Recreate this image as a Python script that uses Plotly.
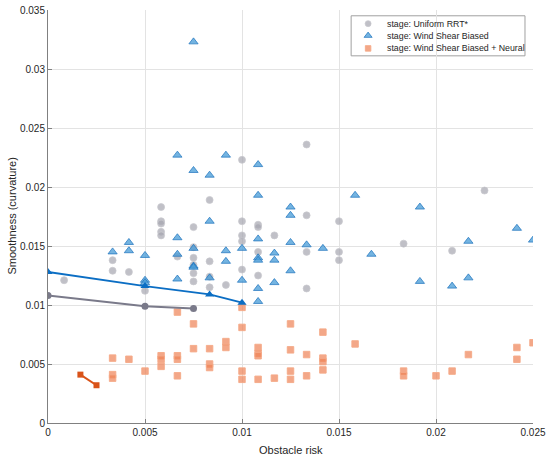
import plotly.graph_objects as go

# -----------------------------------------------------------------------------
# DATA  (x = obstacle risk, y = smoothness / curvature)
# -----------------------------------------------------------------------------
uniform_x = [0.00083, 0.00333, 0.00333, 0.00417, 0.005,
             0.00583, 0.00583, 0.00583, 0.00583, 0.00583, 0.00667,
             0.0075, 0.0075, 0.0075, 0.0075, 0.0075, 0.0075,
             0.00833, 0.00833, 0.00833, 0.00833, 0.00917,
             0.01, 0.01, 0.01, 0.01, 0.01,
             0.01083, 0.01083, 0.01083, 0.01083, 0.01167,
             0.01333, 0.01333, 0.01333, 0.01333,
             0.015, 0.015, 0.015, 0.01833, 0.02083, 0.0225]
uniform_y = [0.0121, 0.0138, 0.0129, 0.0128, 0.0112,
             0.0183, 0.0171, 0.0169, 0.0162, 0.0159, 0.0141,
             0.0166, 0.0149, 0.0140, 0.0134, 0.0127, 0.0120,
             0.0189, 0.0137, 0.0124, 0.0115, 0.0117,
             0.0223, 0.0171, 0.0159, 0.0154, 0.0130,
             0.0168, 0.0166, 0.0145, 0.0125, 0.0159,
             0.0236, 0.0176, 0.0145, 0.0114,
             0.0171, 0.0145, 0.0138, 0.0152, 0.0146, 0.0197]

wind_x = [0.00333, 0.00417, 0.00417, 0.005, 0.005, 0.005,
          0.00667, 0.00667, 0.00667, 0.00667,
          0.0075, 0.0075, 0.0075, 0.0075, 0.0075,
          0.00833, 0.00833, 0.00833, 0.00917, 0.00917, 0.00917,
          0.01, 0.01,
          0.01083, 0.01083, 0.01083, 0.01083, 0.01083, 0.01083, 0.01083,
          0.01167, 0.01167, 0.01167,
          0.0125, 0.0125, 0.0125, 0.0125, 0.01333, 0.01417,
          0.01583, 0.01667, 0.01917, 0.01917, 0.02083,
          0.02167, 0.02167, 0.02417, 0.025]
wind_y = [0.0145, 0.0153, 0.0146, 0.0142, 0.0121, 0.0119,
          0.0227, 0.0157, 0.0143, 0.0122,
          0.0323, 0.0214, 0.0148, 0.0133, 0.0132,
          0.0210, 0.0171, 0.0123, 0.0227, 0.0146, 0.0137,
          0.0148, 0.0121,
          0.0219, 0.0193, 0.0156, 0.0140, 0.0138, 0.0114, 0.0103,
          0.0144, 0.0138, 0.0119,
          0.0183, 0.0176, 0.0153, 0.0129, 0.0151, 0.0148,
          0.0193, 0.0143, 0.0183, 0.0120, 0.0116,
          0.0154, 0.0123, 0.0165, 0.0155]

neural_x = [0.00333, 0.00333, 0.00333, 0.00417, 0.005,
            0.00583, 0.00583, 0.00583, 0.00667, 0.00667, 0.00667, 0.00667,
            0.0075, 0.0075, 0.00833, 0.00833, 0.00833, 0.00917, 0.00917,
            0.01, 0.01, 0.01, 0.01,
            0.01083, 0.01083, 0.01083, 0.01083, 0.01167,
            0.0125, 0.0125, 0.0125, 0.0125, 0.01333, 0.01333,
            0.01417, 0.01417, 0.01417, 0.01417, 0.01583,
            0.01833, 0.01833, 0.02, 0.02083, 0.02167,
            0.02417, 0.02417, 0.025]
neural_y = [0.0055, 0.0041, 0.0038, 0.0054, 0.0044,
            0.0057, 0.0054, 0.0048, 0.0094, 0.0057, 0.0054, 0.0040,
            0.0084, 0.0063, 0.0063, 0.0050, 0.0047, 0.0069, 0.0064,
            0.0098, 0.0081, 0.0044, 0.0037,
            0.0064, 0.0059, 0.0057, 0.0037, 0.0038,
            0.0084, 0.0062, 0.0044, 0.0037, 0.0058, 0.0040,
            0.0077, 0.0055, 0.0052, 0.0045, 0.0067,
            0.0044, 0.0040, 0.0040, 0.0044, 0.0058,
            0.0064, 0.0054, 0.0068]

# trend lines
uniform_line_x = [0, 0.005, 0.0075]
uniform_line_y = [0.0108, 0.0099, 0.0097]
wind_line_x = [0, 0.005, 0.00833, 0.01]
wind_line_y = [0.0128, 0.0116, 0.0109, 0.0102]
neural_line_x = [0.00167, 0.0025]
neural_line_y = [0.0041, 0.0032]

x_ticks = [0, 0.005, 0.01, 0.015, 0.02, 0.025]
x_labels = ["0", "0.005", "0.01", "0.015", "0.02", "0.025"]
y_ticks = [0, 0.005, 0.01, 0.015, 0.02, 0.025, 0.03, 0.035]
y_labels = ["0", "0.005", "0.01", "0.015", "0.02", "0.025", "0.03", "0.035"]

stage_names = ["stage: Uniform RRT*", "stage: Wind Shear Biased",
               "stage: Wind Shear Biased + Neural"]

# -----------------------------------------------------------------------------
# STYLES
# -----------------------------------------------------------------------------
circle_style = dict(symbol="circle", size=7, color="rgba(165,165,175,0.7)",
                    line=dict(color="rgba(200,200,206,0.9)", width=0.8))
tri_style = dict(symbol="triangle-up", size=8, color="rgba(70,155,215,0.75)",
                 line=dict(color="rgba(30,115,190,0.9)", width=0.8))
square_style = dict(symbol="square", size=6.5, color="rgba(238,130,85,0.7)",
                    line=dict(color="rgba(245,170,135,0.9)", width=1))

# -----------------------------------------------------------------------------
# FIGURE
# -----------------------------------------------------------------------------
fig = go.Figure()

fig.add_trace(go.Scatter(x=uniform_x, y=uniform_y, mode="markers",
                         name=stage_names[0], marker=circle_style))
fig.add_trace(go.Scatter(x=wind_x, y=wind_y, mode="markers",
                         name=stage_names[1], marker=tri_style))
fig.add_trace(go.Scatter(x=neural_x, y=neural_y, mode="markers",
                         name=stage_names[2], marker=square_style))

# lines
fig.add_trace(go.Scatter(
    x=uniform_line_x, y=uniform_line_y, mode="lines+markers",
    line=dict(color="#7a7a8a", width=2),
    marker=dict(symbol="circle", size=7, color="#7a7a8a")
))
fig.add_trace(go.Scatter(
    x=wind_line_x, y=wind_line_y, mode="lines+markers",
    line=dict(color="#0b6ec4", width=2),
    marker=dict(symbol="triangle-up", size=8, color="#0b6ec4")
))
fig.add_trace(go.Scatter(
    x=neural_line_x, y=neural_line_y, mode="lines+markers",
    line=dict(color="#d95319", width=2),
    marker=dict(symbol="square", size=6, color="#d95319")
))

# -----------------------------------------------------------------------------
# LEGEND (compact, MATLAB-like) -- keys drawn on an overlay 0..1 axis pair
# -----------------------------------------------------------------------------
leg_left, leg_right, leg_top, leg_bottom = 0.625, 0.9835, 0.986, 0.889
row_y = [0.967, 0.938, 0.907]
sym_x = 0.66
text_x = 0.695

fig.add_shape(type="rect", xref="paper", yref="paper",
              x0=leg_left, x1=leg_right, y0=leg_bottom, y1=leg_top,
              fillcolor="white", line=dict(color="#a0a0a0", width=1),
              layer="between")

for style, ry in zip([circle_style, tri_style, square_style], row_y):
    key = dict(style)
    key["size"] = style["size"] - 1
    fig.add_trace(go.Scatter(x=[sym_x], y=[ry], mode="markers", marker=key,
                             xaxis="x2", yaxis="y2", hoverinfo="skip"))

for name, ry in zip(stage_names, row_y):
    fig.add_annotation(text=name, xref="paper", yref="paper", x=text_x, y=ry,
                       xanchor="left", yanchor="middle", showarrow=False,
                       font=dict(size=8.8, color="#262626"))

# -----------------------------------------------------------------------------
# LAYOUT
# -----------------------------------------------------------------------------
fig.update_layout(
    width=550, height=458,
    margin=dict(l=48, r=17, t=10, b=35),
    plot_bgcolor="white", paper_bgcolor="white",
    font=dict(family="Liberation Sans, Arial, sans-serif", size=11, color="#262626"),
    showlegend=False,
    xaxis=dict(range=[0, 0.025], tickvals=x_ticks, ticktext=x_labels,
               showgrid=True, gridcolor="#e3e3e3",
               showline=True, linecolor="#808080", linewidth=1,
               ticks="inside", ticklen=4, tickcolor="#808080",
               zeroline=False, automargin=False, tickfont=dict(size=10)),
    yaxis=dict(range=[0, 0.035], tickvals=y_ticks, ticktext=y_labels,
               showgrid=True, gridcolor="#e3e3e3",
               showline=True, linecolor="#808080", linewidth=1,
               ticks="inside", ticklen=4, tickcolor="#808080",
               zeroline=False, automargin=False, tickfont=dict(size=10)),
    xaxis2=dict(overlaying="x", range=[0, 1], visible=False, fixedrange=True),
    yaxis2=dict(overlaying="y", range=[0, 1], visible=False, fixedrange=True),
)

# axis titles
fig.add_annotation(text="Obstacle risk", xref="paper", yref="paper",
                   x=0.5, y=0, yshift=-27, yanchor="middle", showarrow=False,
                   font=dict(size=11))
fig.add_annotation(text="Smoothness (curvature)", xref="paper", yref="paper",
                   x=0, xshift=-37, y=0.5, textangle=-90, xanchor="center",
                   showarrow=False, font=dict(size=11))

# page body has a default 8px margin -> remove it so the figure sits at 0,0
fig.write_html("out.html", config={"displayModeBar": False},
               post_script="document.body.style.margin='0';")
